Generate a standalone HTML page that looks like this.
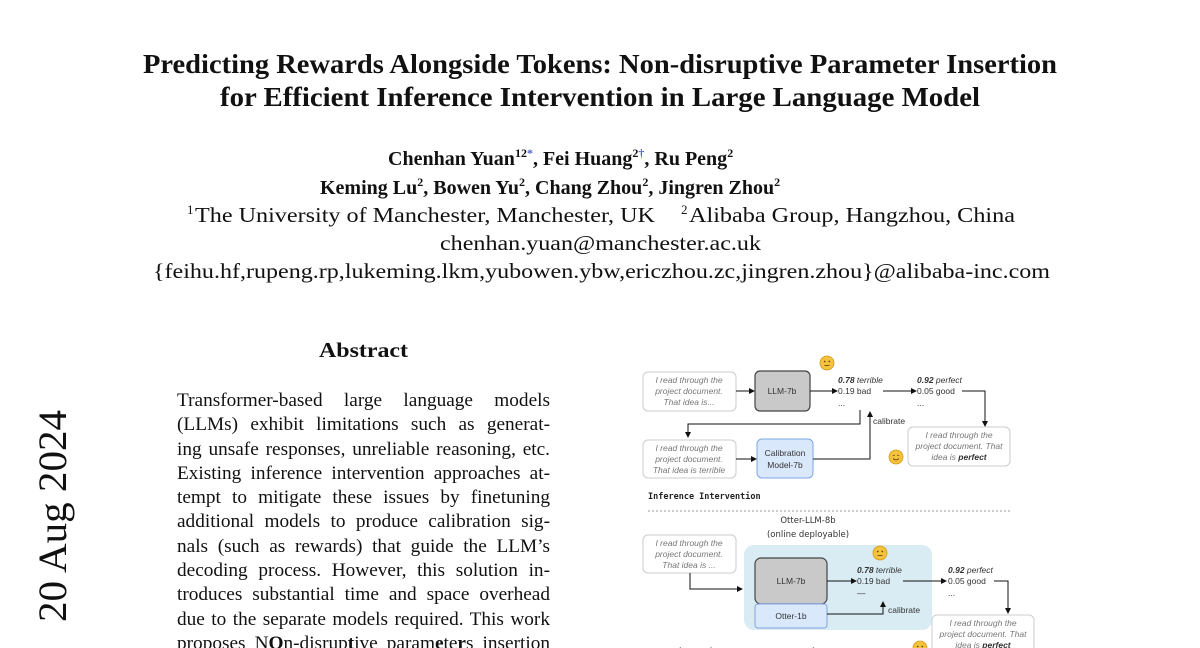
<!DOCTYPE html>
<html><head><meta charset="utf-8"><style>
html,body{margin:0;padding:0;background:#fff;width:1200px;height:648px;overflow:hidden;position:relative}
svg{display:block;position:absolute;left:0;top:0}
.t{font-family:"Liberation Serif",serif;fill:#111}
.d{font-family:"Liberation Sans",sans-serif}
#body{position:absolute;left:177px;top:389px;width:373px;font-family:"Liberation Serif",serif;font-size:19.3px;line-height:24.3px;color:#111;z-index:2}
#body div{text-align:justify;text-align-last:justify;white-space:nowrap;height:24.3px}
</style></head><body>
<svg width="1200" height="648" viewBox="0 0 1200 648" xmlns="http://www.w3.org/2000/svg">
<defs>
<marker id="ah" markerWidth="6" markerHeight="6" refX="5" refY="3" orient="auto" markerUnits="userSpaceOnUse"><path d="M0,0 L6,3 L0,6 z" fill="#111"/></marker>
<g id="face"><circle r="7" fill="#f5c33b" stroke="#d29a1a" stroke-width=".8"/><circle cx="-2.3" cy="-1.5" r=".9" fill="#6b4a10"/><circle cx="2.3" cy="-1.5" r=".9" fill="#6b4a10"/><path d="M-2.5,2.5 L2.5,2.5" stroke="#6b4a10" stroke-width=".9"/></g>
<g id="smile"><circle r="7" fill="#f5c33b" stroke="#d29a1a" stroke-width=".8"/><path d="M-3.2,-1.2 q1,-1.3 2,0 M1.2,-1.2 q1,-1.3 2,0" stroke="#6b4a10" stroke-width=".8" fill="none"/><path d="M-3,1.5 q3,3 6,0" stroke="#6b4a10" stroke-width=".9" fill="none"/></g>
</defs>
<g class="t" font-weight="bold" font-size="27">
<text x="143" y="73" textLength="914" lengthAdjust="spacingAndGlyphs">Predicting Rewards Alongside Tokens: Non-disruptive Parameter Insertion</text>
<text x="220" y="106" textLength="760" lengthAdjust="spacingAndGlyphs">for Efficient Inference Intervention in Large Language Model</text>
</g>
<g class="t" font-weight="bold" font-size="20">
<text x="388" y="165">Chenhan Yuan<tspan font-size="12" dy="-8">12</tspan><tspan font-size="12" fill="#5566cc">*</tspan><tspan dy="8">, Fei Huang</tspan><tspan font-size="12" dy="-8">2</tspan><tspan font-size="12" fill="#5566cc">†</tspan><tspan dy="8">, Ru Peng</tspan><tspan font-size="12" dy="-8">2</tspan></text>
<text x="320" y="194">Keming Lu<tspan font-size="12" dy="-8">2</tspan><tspan dy="8">, Bowen Yu</tspan><tspan font-size="12" dy="-8">2</tspan><tspan dy="8">, Chang Zhou</tspan><tspan font-size="12" dy="-8">2</tspan><tspan dy="8">, Jingren Zhou</tspan><tspan font-size="12" dy="-8">2</tspan></text>
</g>
<g class="t" font-size="21">
<text x="187" y="214" font-size="13">1</text>
<text x="195" y="222" textLength="460" lengthAdjust="spacingAndGlyphs">The University of Manchester, Manchester, UK</text>
<text x="681" y="214" font-size="13">2</text>
<text x="689" y="222" textLength="326" lengthAdjust="spacingAndGlyphs">Alibaba Group, Hangzhou, China</text>
<text x="440" y="250" textLength="321" lengthAdjust="spacingAndGlyphs">chenhan.yuan@manchester.ac.uk</text>
<text x="153" y="278" textLength="897" lengthAdjust="spacingAndGlyphs">{feihu.hf,rupeng.rp,lukeming.lkm,yubowen.ybw,ericzhou.zc,jingren.zhou}@alibaba-inc.com</text>
</g>
<text class="t" x="319" y="357" font-size="21" font-weight="bold" textLength="89" lengthAdjust="spacingAndGlyphs">Abstract</text>
<text class="t" transform="translate(66,622) rotate(-90)" font-size="40" fill="#888" textLength="212" lengthAdjust="spacingAndGlyphs">20 Aug 2024</text>

<g class="d" font-size="8.5">
<rect x="643" y="372" width="93" height="39" rx="5" fill="#fff" stroke="#ccc"/>
<g fill="#777" font-style="italic" text-anchor="middle"><text x="689" y="383">I read through the</text><text x="689" y="394">project document.</text><text x="689" y="405">That idea is...</text></g>
<line x1="736" y1="391" x2="754" y2="391" stroke="#111" marker-end="url(#ah)"/>
<rect x="755" y="371" width="55" height="40" rx="5" fill="#c9c9c9" stroke="#444" stroke-width="1.2"/>
<text x="782" y="394" text-anchor="middle" fill="#333">LLM-7b</text>
<use href="#face" x="827" y="363"/>
<line x1="810" y1="391" x2="837" y2="391" stroke="#111" marker-end="url(#ah)"/>
<text x="838" y="383" fill="#333"><tspan font-weight="bold" font-style="italic">0.78</tspan><tspan font-style="italic"> terrible</tspan></text>
<text x="838" y="394" fill="#333">0.19 bad</text>
<text x="838" y="406" fill="#333">...</text>
<line x1="883" y1="391" x2="916" y2="391" stroke="#111" marker-end="url(#ah)"/>
<text x="917" y="383" fill="#333"><tspan font-weight="bold" font-style="italic">0.92</tspan><tspan font-style="italic"> perfect</tspan></text>
<text x="917" y="394" fill="#333">0.05 good</text>
<text x="917" y="406" fill="#333">...</text>
<polyline points="962,391 985,391 985,426" fill="none" stroke="#111" marker-end="url(#ah)"/>
<rect x="908" y="427" width="102" height="39" rx="5" fill="#fff" stroke="#ccc"/>
<g fill="#777" font-style="italic" text-anchor="middle"><text x="959" y="438">I read through the</text><text x="959" y="449">project document. That</text><text x="959" y="460">idea is <tspan font-weight="bold" fill="#333">perfect</tspan></text></g>
<use href="#smile" x="896" y="457"/>
<polyline points="860,410 860,424 688,424 688,437" fill="none" stroke="#111" marker-end="url(#ah)"/>
<rect x="643" y="440" width="93" height="38" rx="5" fill="#fff" stroke="#ccc"/>
<g fill="#777" font-style="italic" text-anchor="middle"><text x="689" y="451">I read through the</text><text x="689" y="462">project document.</text><text x="689" y="473">That idea is terrible</text></g>
<line x1="736" y1="459" x2="756" y2="459" stroke="#111" marker-end="url(#ah)"/>
<rect x="757" y="439" width="56" height="39" rx="5" fill="#dae8fc" stroke="#7ea6e0"/>
<text x="785" y="456" text-anchor="middle" fill="#333">Calibration</text><text x="785" y="468" text-anchor="middle" fill="#333">Model-7b</text>
<polyline points="813,459 870,459 870,412" fill="none" stroke="#111" marker-end="url(#ah)"/>
<text x="873" y="424" fill="#333">calibrate</text>
<text x="648" y="499" font-size="8.5" font-weight="bold" fill="#222" font-family="'DejaVu Sans Mono',monospace">Inference Intervention</text>
<line x1="648" y1="511" x2="1010" y2="511" stroke="#999" stroke-dasharray="2,2"/>

<text x="808" y="523" text-anchor="middle" fill="#333" font-family="'DejaVu Sans',sans-serif" font-size="8.5">Otter-LLM-8b</text>
<text x="808" y="537" text-anchor="middle" fill="#333" font-family="'DejaVu Sans',sans-serif" font-size="8.5">(online deployable)</text>
<rect x="643" y="535" width="93" height="38" rx="5" fill="#fff" stroke="#ccc"/>
<g fill="#777" font-style="italic" text-anchor="middle"><text x="689" y="546">I read through the</text><text x="689" y="557">project document.</text><text x="689" y="568">That idea is ...</text></g>
<polyline points="690,573 690,589 742,589" fill="none" stroke="#111" marker-end="url(#ah)"/>
<rect x="744" y="545" width="188" height="85" rx="10" fill="#d9ecf3"/>
<rect x="755" y="558" width="72" height="46" rx="6" fill="#c9c9c9" stroke="#444" stroke-width="1.2"/>
<text x="791" y="584" text-anchor="middle" fill="#333">LLM-7b</text>
<rect x="755" y="604" width="72" height="24" rx="3" fill="#dae8fc" stroke="#7ea6e0"/>
<text x="791" y="619" text-anchor="middle" fill="#333">Otter-1b</text>
<use href="#face" x="880" y="553"/>
<line x1="827" y1="581" x2="856" y2="581" stroke="#111" marker-end="url(#ah)"/>
<text x="857" y="573" fill="#333"><tspan font-weight="bold" font-style="italic">0.78</tspan><tspan font-style="italic"> terrible</tspan></text>
<text x="857" y="584" fill="#333">0.19 bad</text>
<text x="857" y="596" fill="#333">—</text>
<line x1="903" y1="581" x2="946" y2="581" stroke="#111" marker-end="url(#ah)"/>
<text x="948" y="573" fill="#333"><tspan font-weight="bold" font-style="italic">0.92</tspan><tspan font-style="italic"> perfect</tspan></text>
<text x="948" y="584" fill="#333">0.05 good</text>
<text x="948" y="596" fill="#333">...</text>
<polyline points="994,581 1008,581 1008,613" fill="none" stroke="#111" marker-end="url(#ah)"/>
<polyline points="827,614 883,614 883,602" fill="none" stroke="#111" marker-end="url(#ah)"/>
<text x="888" y="613" fill="#333">calibrate</text>
<rect x="932" y="615" width="102" height="40" rx="5" fill="#fff" stroke="#ccc"/>
<g fill="#777" font-style="italic" text-anchor="middle"><text x="983" y="626">I read through the</text><text x="983" y="637">project document. That</text><text x="983" y="648">idea is <tspan font-weight="bold" fill="#333">perfect</tspan></text></g>
<use href="#face" x="920" y="648"/>
<text x="652" y="655" fill="#222" font-family="'DejaVu Sans Mono',monospace" font-weight="bold">Non-disruptive Parameter Insertion</text>
</g>
</svg>
<div id="body">
<div>Transformer-based large language models</div>
<div>(LLMs) exhibit limitations such as generat-</div>
<div>ing unsafe responses, unreliable reasoning, etc.</div>
<div>Existing inference intervention approaches at-</div>
<div>tempt to mitigate these issues by finetuning</div>
<div>additional models to produce calibration sig-</div>
<div>nals (such as rewards) that guide the LLM’s</div>
<div>decoding process. However, this solution in-</div>
<div>troduces substantial time and space overhead</div>
<div>due to the separate models required. This work</div>
<div>proposes N<b>O</b>n-disrup<b>t</b>ive param<b>e</b>te<b>r</b>s insertion</div>
</div>
</body></html>
